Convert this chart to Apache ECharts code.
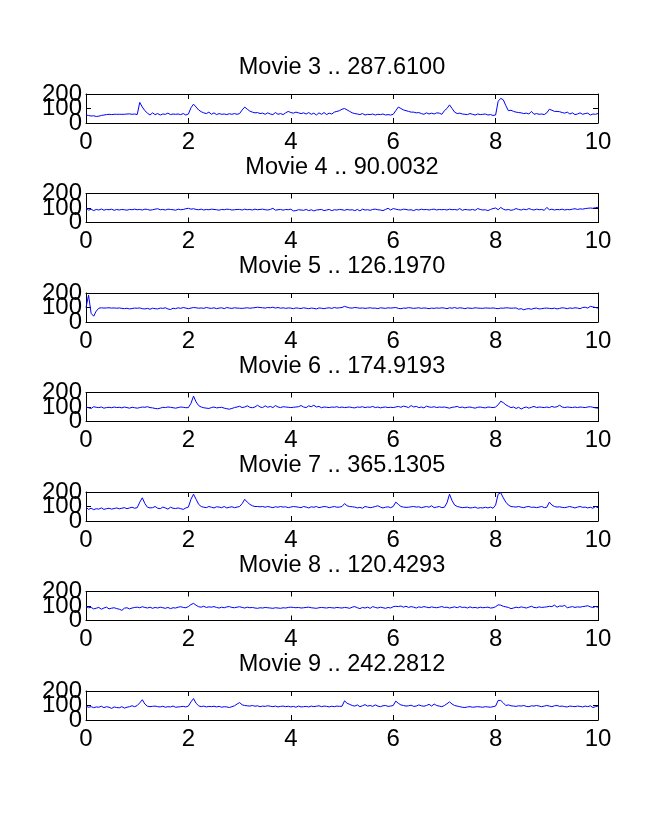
<!DOCTYPE html>
<html>
<head>
<meta charset="utf-8">
<script src="https://cdn.jsdelivr.net/npm/echarts@6/dist/echarts.min.js"></script>
<style>html,body{margin:0;padding:0;background:#fff}#c{width:660px;height:821px}</style>
</head>
<body>
<div id="c"></div>
<script>
const titles = ['Movie 3 .. 287.6100','Movie 4 .. 90.0032','Movie 5 .. 126.1970','Movie 6 .. 174.9193','Movie 7 .. 365.1305','Movie 8 .. 120.4293','Movie 9 .. 242.2812'];
const xTicks = [0,2,4,6,8,10];
const yTicks = [0,100,200];
const STEP = 0.05;

const m3 = [55,52,48,50,45,47,52,55,58,60,58,60,60,60,60,60,62,63,60,62,
58,142,110,85,68,55,70,58,65,55,62,60,68,58,62,60,62,58,65,55,
62,105,130,110,90,78,70,65,75,60,70,58,65,60,62,58,64,60,65,60,
65,90,110,95,82,75,70,72,65,68,60,70,62,58,72,60,65,58,70,80,
72,68,75,70,65,70,62,72,60,68,55,70,60,72,58,68,62,75,80,85,
95,100,90,80,70,65,62,58,65,55,60,58,62,55,60,58,62,55,58,55,
60,85,110,100,90,85,80,75,75,70,72,65,60,70,62,68,62,70,68,60,
85,100,125,100,75,65,68,62,60,58,65,60,55,62,58,60,62,55,58,52,
55,150,170,160,120,85,88,80,75,72,70,65,68,62,80,60,65,60,62,58,
70,95,88,80,80,78,72,68,75,62,70,58,62,70,60,65,68,55,62,60,
65];
const m4 = [100,85,92,82,90,86,93,85,90,88,92,84,90,86,90,88,85,90,88,92,
88,90,86,92,90,85,88,92,95,88,90,86,92,90,88,85,92,88,90,95,
98,92,95,90,88,92,86,90,88,92,90,88,85,90,88,92,90,86,88,90,
90,86,92,88,90,86,92,88,90,92,88,86,90,98,85,88,90,85,90,88,
92,80,82,88,86,84,90,82,88,80,86,88,90,82,86,90,82,88,86,90,
88,84,90,86,88,82,90,80,92,86,88,84,90,92,88,86,82,90,98,86,
96,92,88,86,92,90,86,88,82,90,86,92,88,90,86,90,92,86,90,88,
90,86,92,88,90,86,96,84,90,88,86,90,84,96,90,86,88,82,90,96,
100,88,104,92,86,90,84,88,96,90,86,92,88,96,90,86,92,88,90,84,
104,88,92,86,90,88,92,86,90,88,92,95,90,94,92,96,98,100,98,102,
105];
const m5 = [100,185,60,40,75,95,98,96,97,98,96,97,95,97,94,92,95,90,93,96,
95,97,92,90,94,88,95,92,90,96,94,98,90,86,95,92,98,94,100,96,
92,96,100,98,95,97,94,100,96,94,98,92,96,98,92,100,96,94,98,96,
95,94,96,98,95,97,99,102,100,98,96,100,98,102,96,100,95,98,94,97,
96,92,97,95,93,98,95,92,96,94,90,97,95,92,96,98,94,100,96,98,
100,108,102,97,96,100,98,95,97,94,96,98,95,96,92,98,96,94,98,96,
98,100,94,92,96,95,99,97,94,96,98,94,97,95,92,96,94,97,95,98,
96,92,98,95,100,94,98,96,92,97,95,94,98,96,95,94,97,96,95,97,
94,92,96,95,98,97,95,96,97,88,92,84,90,92,88,94,96,90,92,95,
96,94,92,96,90,94,98,96,92,97,94,98,96,92,100,102,96,108,104,100,
96];
const m6 = [100,95,90,102,98,96,100,92,96,98,95,100,96,98,94,100,96,92,98,95,
92,96,100,98,102,96,94,90,88,92,98,96,100,98,95,92,96,100,98,95,
96,125,175,135,110,100,95,92,90,96,100,94,96,98,92,88,85,90,96,100,
105,96,100,108,98,95,100,112,100,96,108,98,104,96,110,100,96,102,100,98,
96,98,100,102,110,100,96,108,102,112,100,104,95,100,98,96,100,98,102,96,
100,96,98,100,96,94,100,98,102,96,100,98,104,96,100,94,98,100,96,98,
96,100,104,98,106,102,96,110,100,104,96,100,94,106,100,98,102,96,100,98,
100,96,92,98,100,104,96,100,94,98,100,96,92,98,100,96,94,100,98,96,
100,115,140,130,115,105,96,100,90,98,86,95,100,92,98,104,96,100,98,96,
100,96,104,98,102,112,100,96,100,98,96,100,96,100,98,96,100,102,98,94,
92];
const m7 = [95,80,88,78,85,82,90,80,85,88,82,86,90,84,88,92,85,90,95,88,
92,130,160,120,95,90,92,100,88,85,96,90,82,95,88,86,90,85,80,90,
96,150,185,150,115,100,95,92,100,95,90,98,96,92,100,90,95,98,92,96,
100,120,150,130,115,105,100,100,98,100,95,100,96,92,98,95,100,96,98,92,
96,100,98,95,92,100,96,90,98,95,100,92,96,100,98,92,96,100,95,96,
100,120,105,100,98,96,90,94,88,100,96,92,95,100,105,96,90,95,98,92,
100,130,115,100,96,94,95,98,100,96,98,92,96,100,95,105,92,96,100,92,
95,125,185,140,110,100,96,92,94,95,90,92,96,88,92,90,95,90,96,88,
110,185,195,160,130,110,100,98,96,100,95,92,98,100,94,96,92,96,100,92,
95,130,110,100,96,98,94,92,96,100,95,90,96,100,94,96,90,95,88,100,
92];
const m8 = [95,88,90,80,85,90,78,86,92,80,85,88,82,78,70,85,88,80,86,90,
92,88,95,90,86,92,84,90,86,92,88,84,90,82,88,86,92,95,90,88,
96,110,118,105,95,92,98,90,94,92,96,90,86,92,88,94,96,90,88,92,
95,90,86,92,88,90,86,84,88,86,90,88,86,84,88,86,84,88,86,90,
92,90,88,90,86,88,90,92,88,86,84,88,90,88,86,90,88,86,90,88,
86,90,88,84,92,96,88,82,90,86,92,84,96,90,86,92,88,84,90,86,
95,98,96,100,92,98,90,96,92,86,94,90,96,92,88,94,90,88,92,96,
90,92,86,90,94,88,96,90,92,86,94,88,90,86,92,88,90,92,86,88,
95,108,106,98,94,90,82,86,92,88,94,90,86,92,98,90,88,94,90,92,
94,98,96,106,92,100,98,104,88,92,96,90,94,92,96,98,102,94,90,96,
92];
const m9 = [95,88,92,85,90,88,95,85,92,88,80,90,86,84,92,82,88,92,98,92,
100,118,140,110,95,92,94,96,92,90,95,88,92,90,96,88,90,92,94,90,
96,125,148,115,98,92,96,90,94,92,95,90,94,88,92,90,86,92,98,110,
120,105,100,98,96,100,95,98,92,96,94,98,95,92,96,90,94,96,92,95,
90,94,88,96,90,92,94,90,96,92,95,98,92,96,94,90,95,92,96,94,
95,132,115,108,100,96,104,92,98,106,96,100,94,104,96,92,98,100,94,96,
100,130,115,104,100,96,98,102,94,96,104,98,95,100,108,96,110,100,96,92,
100,112,125,110,100,96,92,88,86,90,92,88,90,92,90,88,92,90,88,92,
96,135,135,118,100,104,98,96,94,98,96,100,94,92,98,96,100,96,92,96,
100,96,92,98,100,94,96,92,90,96,94,92,96,94,90,96,92,98,86,92,
96];
const seriesData = [m3,m4,m5,m6,m7,m8,m9];

const FONT = "'Liberation Sans', Arial, Helvetica, sans-serif";
const TOP0 = 94, STEP_Y = 99.5, H = 29, LEFT = 86, W = 512;
const grids = [], xAxes = [], yAxes = [], series = [], titleArr = [];
const midTick = yTicks[1];
seriesData.forEach((vals, k) => {
  const top = TOP0 + STEP_Y * k;
  grids.push({left: LEFT, width: W, top: top, height: H, containLabel: false});
  titleArr.push({text: titles[k], left: LEFT + W / 2, top: top - 38, textAlign: 'center', padding: 0,
    textStyle: {fontFamily: FONT, fontSize: 23.5, fontWeight: 'normal', color: '#000'}});
  const axLine = {show: true, onZero: false, lineStyle: {color: '#000', width: 1}};
  const tick = {show: true, inside: true, length: 5, lineStyle: {color: '#000'}};
  const lbl = {fontFamily: FONT, fontSize: 24, color: '#000', showMinLabel: true, showMaxLabel: true, hideOverlap: false};
  xAxes.push({type: 'value', gridIndex: k, position: 'bottom', min: xTicks[0], max: xTicks[xTicks.length-1], interval: 2,
    axisLine: axLine, axisTick: tick, splitLine: {show: false},
    axisLabel: Object.assign({show: true, margin: 7}, lbl)});
  xAxes.push({type: 'value', gridIndex: k, position: 'top', min: 0, max: 10, interval: 2,
    axisLine: axLine, axisTick: tick, splitLine: {show: false}, axisLabel: {show: false}});
  // left axis: labels for min and max
  yAxes.push({type: 'value', gridIndex: k, position: 'left', min: yTicks[0], max: yTicks[yTicks.length-1], interval: 100,
    axisLine: axLine, axisTick: tick, splitLine: {show: false},
    axisLabel: Object.assign({show: true, margin: 4, formatter: v => (v === midTick ? '' : String(v))}, lbl)});
  // right axis: box side with ticks
  yAxes.push({type: 'value', gridIndex: k, position: 'right', min: 0, max: 200, interval: 100,
    axisLine: axLine, axisTick: tick, splitLine: {show: false}, axisLabel: {show: false}});
  // left overlay axis: middle label (overlaps the others, as in the original)
  yAxes.push({type: 'value', gridIndex: k, position: 'left', min: 0, max: 200, interval: 100,
    axisLine: {show: false}, axisTick: {show: false}, splitLine: {show: false},
    axisLabel: Object.assign({show: true, margin: 4, formatter: v => (v === midTick ? String(v) : '')}, lbl)});
  series.push({type: 'line', xAxisIndex: 2 * k, yAxisIndex: 3 * k, showSymbol: false, symbol: 'none', animation: false,
    lineStyle: {color: '#0000ff', width: 1}, data: vals.map((v, i) => [+(i * STEP).toFixed(2), v])});
});

const chart = echarts.init(document.getElementById('c'), null, {renderer: 'canvas'});
chart.setOption({
  animation: false,
  backgroundColor: '#fff',
  title: titleArr,
  grid: grids,
  xAxis: xAxes,
  yAxis: yAxes,
  series: series
});
</script>
</body>
</html>
